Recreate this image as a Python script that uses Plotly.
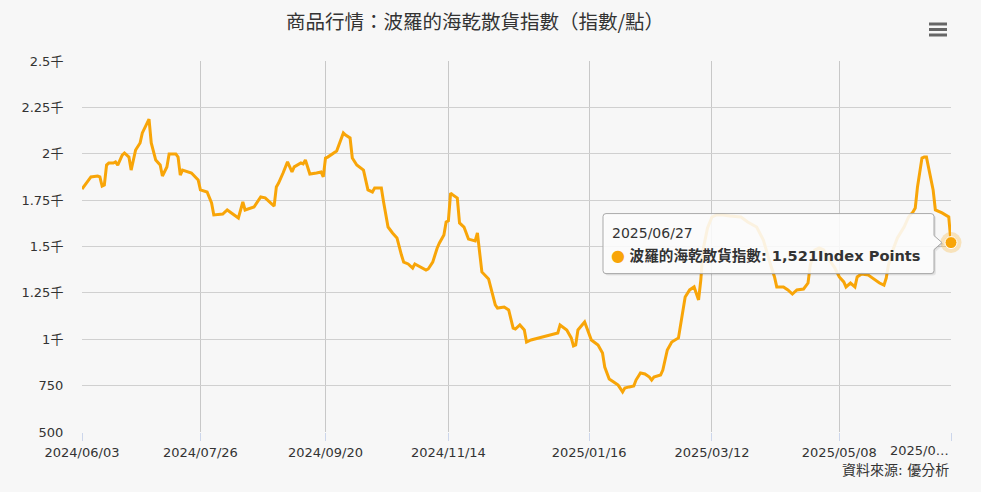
import plotly.graph_objects as go

# ---------------- data ----------------
dates = [
    "2024-06-03", "2024-06-05", "2024-06-07", "2024-06-10", "2024-06-11", "2024-06-12", "2024-06-13",
    "2024-06-14", "2024-06-15", "2024-06-17", "2024-06-18", "2024-06-19", "2024-06-21", "2024-06-22",
    "2024-06-24", "2024-06-25", "2024-06-27", "2024-06-29", "2024-06-30", "2024-07-03", "2024-07-04",
    "2024-07-06", "2024-07-08", "2024-07-09", "2024-07-11", "2024-07-12", "2024-07-15", "2024-07-16",
    "2024-07-17", "2024-07-18", "2024-07-21", "2024-07-22", "2024-07-25", "2024-07-26", "2024-07-29",
    "2024-07-31", "2024-08-01", "2024-08-05", "2024-08-07", "2024-08-10", "2024-08-12", "2024-08-14",
    "2024-08-15", "2024-08-19", "2024-08-22", "2024-08-24", "2024-08-28", "2024-08-29", "2024-08-30",
    "2024-09-01", "2024-09-03", "2024-09-05", "2024-09-06", "2024-09-09", "2024-09-10", "2024-09-11",
    "2024-09-13", "2024-09-16", "2024-09-18", "2024-09-19", "2024-09-20", "2024-09-21", "2024-09-24",
    "2024-09-25", "2024-09-28", "2024-09-29", "2024-10-01", "2024-10-02", "2024-10-04", "2024-10-07",
    "2024-10-09", "2024-10-11", "2024-10-12", "2024-10-15", "2024-10-16", "2024-10-18", "2024-10-20",
    "2024-10-22", "2024-10-24", "2024-10-25", "2024-10-27", "2024-10-29", "2024-10-30", "2024-11-02",
    "2024-11-04", "2024-11-05", "2024-11-07", "2024-11-09", "2024-11-10", "2024-11-12", "2024-11-13",
    "2024-11-14", "2024-11-15", "2024-11-16", "2024-11-18", "2024-11-19", "2024-11-21", "2024-11-23",
    "2024-11-25", "2024-11-26", "2024-11-27", "2024-11-28", "2024-11-29", "2024-12-02", "2024-12-03",
    "2024-12-05", "2024-12-06", "2024-12-09", "2024-12-11", "2024-12-12", "2024-12-13", "2024-12-14",
    "2024-12-16", "2024-12-18", "2024-12-19", "2024-12-21", "2025-01-02", "2025-01-03", "2025-01-06",
    "2025-01-08", "2025-01-09", "2025-01-10", "2025-01-11", "2025-01-14", "2025-01-15", "2025-01-17",
    "2025-01-20", "2025-01-22", "2025-01-23", "2025-01-25", "2025-01-27", "2025-01-29", "2025-01-31",
    "2025-02-01", "2025-02-03", "2025-02-05", "2025-02-06", "2025-02-08", "2025-02-10", "2025-02-12",
    "2025-02-13", "2025-02-14", "2025-02-17", "2025-02-18", "2025-02-20", "2025-02-22", "2025-02-25",
    "2025-02-26", "2025-02-28", "2025-03-02", "2025-03-04", "2025-03-06", "2025-03-07", "2025-03-08",
    "2025-03-10", "2025-03-12", "2025-03-14", "2025-03-17", "2025-03-20", "2025-03-25", "2025-03-28",
    "2025-04-01", "2025-04-04", "2025-04-07", "2025-04-09", "2025-04-10", "2025-04-13", "2025-04-15",
    "2025-04-17", "2025-04-19", "2025-04-22", "2025-04-24", "2025-04-25", "2025-04-27", "2025-04-29",
    "2025-05-01", "2025-05-03", "2025-05-06", "2025-05-08", "2025-05-10", "2025-05-11", "2025-05-13",
    "2025-05-15", "2025-05-16", "2025-05-18", "2025-05-21", "2025-05-23", "2025-05-26", "2025-05-28",
    "2025-05-29", "2025-05-30", "2025-06-01", "2025-06-03", "2025-06-06", "2025-06-08", "2025-06-10",
    "2025-06-11", "2025-06-12", "2025-06-14", "2025-06-15", "2025-06-16", "2025-06-17", "2025-06-19",
    "2025-06-20", "2025-06-23", "2025-06-26", "2025-06-27",
]

bdi_values = [
    1810, 1842, 1875, 1880, 1875, 1826, 1832,
    1939, 1950, 1950, 1956, 1939, 1993, 2004,
    1982, 1912, 2020, 2058, 2112, 2187, 2058,
    1966, 1939, 1880, 1929, 1999, 1999, 1982,
    1885, 1912, 1902, 1896, 1859, 1805, 1794,
    1735, 1670, 1675, 1697, 1670, 1654, 1740,
    1697, 1713, 1767, 1762, 1718, 1821, 1842,
    1896, 1956, 1902, 1929, 1950, 1945, 1966,
    1891, 1896, 1902, 1875, 1977, 1982, 2009,
    2015, 2112, 2101, 2085, 1977, 1939, 1912,
    1805, 1794, 1815, 1815, 1740, 1605, 1573,
    1546, 1454, 1416, 1406, 1384, 1406, 1384,
    1373, 1379, 1416, 1492, 1519, 1562, 1632,
    1638, 1788, 1778, 1761, 1627, 1605, 1540,
    1535, 1530, 1573, 1470, 1363, 1325, 1276,
    1185, 1168, 1174, 1158, 1115, 1060, 1055,
    1077, 1050, 985, 996, 1034, 1077, 1050,
    1007, 964, 969, 1050, 1093, 1061, 996,
    969, 926, 850, 786, 770, 753, 716,
    737, 743, 748, 780, 818, 813, 796,
    780, 796, 807, 834, 942, 985, 1007,
    1088, 1228, 1266, 1282, 1212, 1319, 1481,
    1600, 1659, 1670, 1670, 1664, 1659, 1632,
    1605, 1535, 1411, 1336, 1282, 1282, 1266,
    1244, 1266, 1271, 1303, 1400, 1481, 1492,
    1481, 1438, 1384, 1336, 1309, 1282, 1303,
    1282, 1336, 1352, 1346, 1330, 1303, 1292,
    1330, 1400, 1481, 1546, 1605, 1659, 1686,
    1708, 1821, 1977, 1982, 1982, 1929, 1805,
    1697, 1681, 1659, 1521,
]

x_tick_vals = ["2024-06-03", "2024-07-26", "2024-09-20", "2024-11-14",
               "2025-01-16", "2025-03-12", "2025-05-08", "2025-06-27"]
x_tick_text = ["2024/06/03", "2024/07/26", "2024/09/20", "2024/11/14",
               "2025/01/16", "2025/03/12", "2025/05/08", ""]
last_tick_label = "2025/0…"

y_tick_vals = [500, 750, 1000, 1250, 1500, 1750, 2000, 2250, 2500]
y_tick_text = ["500", "750", "1千", "1.25千", "1.5千", "1.75千", "2千", "2.25千", "2.5千"]

title_text = "商品行情：波羅的海乾散貨指數（指數/點）"
series_name = "波羅的海乾散貨指數"
unit_text = "Index Points"
source_text = "資料來源: 優分析"

# ---------------- style ----------------
FONT = "DejaVu Sans, Noto Sans CJK TC"
TITLE_FONT = "Noto Sans CJK TC"
LINE_COLOR = "#F8A508"
BG = "#f7f7f7"
TEXT = "#333333"
W, H = 981, 492
ML, MR, MT, MB = 82, 30, 61, 60
PW, PH = W - ML - MR, H - MT - MB

fig = go.Figure()

fig.add_trace(go.Scatter(
    x=dates, y=bdi_values, mode="lines", name=series_name,
    line=dict(color=LINE_COLOR, width=3), hoverinfo="skip", showlegend=False,
))
# hover halo + marker on the last point
fig.add_trace(go.Scatter(
    x=[dates[-1]], y=[bdi_values[-1]], mode="markers", cliponaxis=False,
    marker=dict(size=21, color=LINE_COLOR, opacity=0.25), hoverinfo="skip", showlegend=False,
))
fig.add_trace(go.Scatter(
    x=[dates[-1]], y=[bdi_values[-1]], mode="markers", cliponaxis=False,
    marker=dict(size=12, color=LINE_COLOR, line=dict(color="#ffffff", width=1)),
    hoverinfo="skip", showlegend=False,
))

# tooltip box (pixel path relative to the last point)
Lx, Rx, Ty, By, r = -348, -17, 29, -31, 3
def box_path(dx=0, dy=0):
    pts = [
        f"M {Lx + r + dx},{Ty + dy}",
        f"L {Rx - r + dx},{Ty + dy}",
        f"Q {Rx + dx},{Ty + dy} {Rx + dx},{Ty - r + dy}",
        f"L {Rx + dx},{7 + dy}",
        f"L {Rx + 8 + dx},{0 + dy}",
        f"L {Rx + dx},{-7 + dy}",
        f"L {Rx + dx},{By + r + dy}",
        f"Q {Rx + dx},{By + dy} {Rx - r + dx},{By + dy}",
        f"L {Lx + r + dx},{By + dy}",
        f"Q {Lx + dx},{By + dy} {Lx + dx},{By + r + dy}",
        f"L {Lx + dx},{Ty - r + dy}",
        f"Q {Lx + dx},{Ty + dy} {Lx + r + dx},{Ty + dy}",
        "Z",
    ]
    return " ".join(pts)

shape_common = dict(type="path", xref="x", yref="y", xsizemode="pixel", ysizemode="pixel",
                    xanchor=dates[-1], yanchor=bdi_values[-1], layer="above")
fig.add_shape(path=box_path(2, -2), fillcolor="rgba(0,0,0,0.07)", line=dict(width=0), **shape_common)
fig.add_shape(path=box_path(1, -1), fillcolor="rgba(0,0,0,0.05)", line=dict(width=0), **shape_common)
fig.add_shape(path=box_path(), fillcolor="rgba(255,255,255,0.88)",
              line=dict(color="#a8a8a8", width=1), **shape_common)

last_date_label = dates[-1].replace("-", "/")
fig.add_annotation(x=dates[-1], y=bdi_values[-1], xref="x", yref="y", showarrow=False,
                   xanchor="left", yanchor="middle", xshift=-341, yshift=10,
                   text=last_date_label, font=dict(family=FONT, size=14, color=TEXT))
fig.add_annotation(x=dates[-1], y=bdi_values[-1], xref="x", yref="y", showarrow=False,
                   xanchor="left", yanchor="middle", xshift=-342, yshift=-13,
                   text=f"<span style='color:{LINE_COLOR};font-size:16px'>●</span> <b>{series_name}: {bdi_values[-1]:,}{unit_text}</b>",
                   font=dict(family=FONT, size=14.6, color=TEXT))

# last (truncated) x label
fig.add_annotation(x=x_tick_vals[-1], y=0, xref="x", yref="paper", showarrow=False,
                   xanchor="right", yanchor="top", yshift=-9,
                   text=last_tick_label, font=dict(family=FONT, size=13, color=TEXT))

# source credit
fig.add_annotation(x=(951 - ML) / PW, y=(H - MB - 470) / PH, xref="paper", yref="paper",
                   showarrow=False, xanchor="right", yanchor="middle", text=source_text,
                   font=dict(family=FONT, size=14, color=TEXT))

# hamburger menu icon
for yy in (24, 29.5, 35):
    fig.add_shape(type="line", xref="paper", yref="paper",
                  x0=(929 - ML) / PW, x1=(947 - ML) / PW,
                  y0=(H - MB - yy) / PH, y1=(H - MB - yy) / PH,
                  line=dict(color="#666666", width=3))

fig.update_layout(
    width=W, height=H, autosize=False,
    margin=dict(l=ML, r=MR, t=MT, b=MB),
    paper_bgcolor=BG, plot_bgcolor=BG,
    font=dict(family=FONT, size=13, color=TEXT),
    title=dict(text=title_text, xref="container", yref="container",
               x=475 / W, y=1 - 22 / H, xanchor="center", yanchor="middle",
               font=dict(family=TITLE_FONT, size=19.5, color=TEXT)),
    showlegend=False,
    hovermode=False,
)
fig.update_xaxes(
    type="date", range=[x_tick_vals[0], x_tick_vals[-1]],
    tickmode="array", tickvals=x_tick_vals, ticktext=x_tick_text,
    showgrid=True, gridcolor="#c8c8c8", gridwidth=1,
    ticks="outside", ticklen=8, tickcolor="#ccd6eb",
    showline=False, zeroline=False,
    tickfont=dict(family=FONT, size=13, color=TEXT),
)
fig.update_yaxes(
    range=[500, 2500], tickmode="array", tickvals=y_tick_vals, ticktext=y_tick_text,
    showgrid=True, gridcolor="#d0d0d0", gridwidth=1,
    ticks="outside", ticklen=15, tickcolor="rgba(0,0,0,0)",
    showline=False, zeroline=False,
    tickfont=dict(family=FONT, size=13, color=TEXT),
)

fig.write_html("out.html", config={"displayModeBar": False},
               post_script="document.body.style.margin='0';document.body.style.overflow='hidden';")
